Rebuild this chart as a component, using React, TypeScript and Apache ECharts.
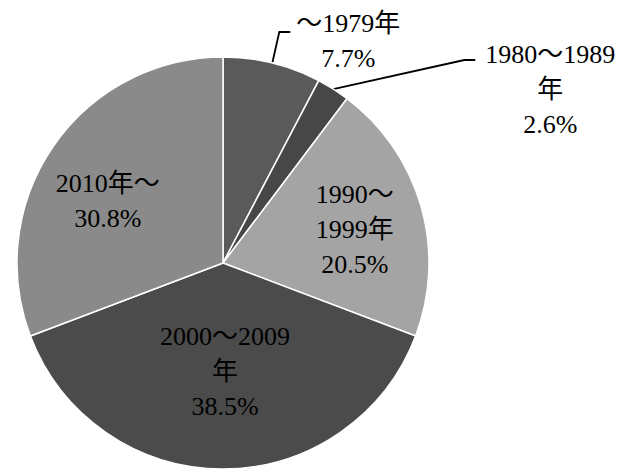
import React, { useEffect, useRef } from "react";
import * as echarts from "echarts";

// Share of buildings by construction period
const periods = ["～1979年", "1980～1989\n年", "1990～\n1999年", "2000～2009\n年", "2010年～"];
const shares = [7.7, 2.6, 20.5, 38.5, 30.8];
const sliceColors = ["#5a5a5a", "#474747", "#a4a4a4", "#4b4b4b", "#8a8a8a"];

// Label placement tweaks (pixels) per slice
const insideShift: Record<number, [number, number]> = { 2: [30, -4], 3: [2, 2], 4: [-28, -2] };
const leaderBends: Record<number, { bend: [number, number]; tail: number; text: [number, number] }> = {
  0: { bend: [7, -31], tail: 11, text: [58, 9] },
  1: { bend: [131, -29], tail: 11, text: [75, 29] },
};

export default function App() {
  const ref = useRef<HTMLDivElement>(null);

  useEffect(() => {
    if (!ref.current) return;
    const chart = echarts.init(ref.current, null, { renderer: "svg" });
    const font = "Liberation Serif, DejaVu Serif, Noto Sans CJK JP, serif";

    chart.setOption({
      animation: false,
      backgroundColor: "#ffffff",
      series: [
        {
          type: "pie",
          center: [223, 263],
          radius: [0, 206],
          startAngle: 90,
          clockwise: true,
          avoidLabelOverlap: false,
          itemStyle: { borderColor: "#ffffff", borderWidth: 1.5 },
          label: {
            color: "#000000",
            fontFamily: font,
            fontSize: 26,
            lineHeight: 35,
            formatter: (p: any) => `${p.name}\n${p.value}%`,
          },
          labelLine: {
            show: true,
            lineStyle: { color: "#000000", width: 1.8 },
          },
          labelLayout: (params: any) => {
            const i = params.dataIndex;
            const bend = leaderBends[i];
            if (bend && params.labelLinePoints && params.labelLinePoints.length) {
              const p0 = params.labelLinePoints[0];
              const p1 = [p0[0] + bend.bend[0], p0[1] + bend.bend[1]];
              const p2 = [p1[0] + bend.tail, p1[1]];
              return {
                x: p2[0] + bend.text[0],
                y: p2[1] + bend.text[1],
                align: "center",
                verticalAlign: "middle",
                labelLinePoints: [p0, p1, p2],
              };
            }
            const s = insideShift[i];
            if (s) return { dx: s[0], dy: s[1] };
            return {};
          },
          data: periods.map((name, i) => ({
            name,
            value: shares[i],
            itemStyle: { color: sliceColors[i] },
            label: { position: i < 2 ? "outside" : "inside" },
            labelLine: { show: i < 2 },
          })),
        },
      ],
    });

    return () => chart.dispose();
  }, []);

  return (
    <div
      ref={ref}
      style={{ position: "fixed", left: 0, top: 0, width: 626, height: 470 }}
    />
  );
}
